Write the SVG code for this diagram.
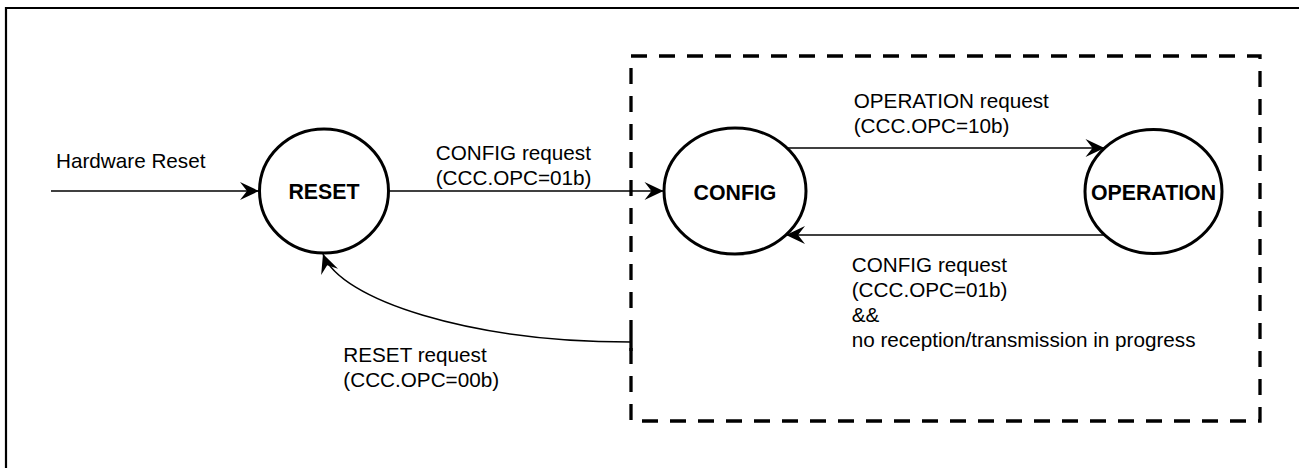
<svg xmlns="http://www.w3.org/2000/svg" width="1299" height="468" viewBox="0 0 1299 468">
<style>
.lbl{font-family:"Liberation Sans",Arial,sans-serif;font-size:20.7px;fill:#000}
.st{font-family:"Liberation Sans",Arial,sans-serif;font-size:21.3px;font-weight:bold;fill:#000;text-anchor:middle}
.state{fill:#fff;stroke:#000;stroke-width:3}
.edge{fill:none;stroke:#000;stroke-width:1.5}
</style>
<defs>
<marker id="arr" markerUnits="userSpaceOnUse" markerWidth="24" markerHeight="24" viewBox="-21 -12 24 24" refX="0" refY="0" orient="auto">
<path d="M0,0 L-19,-9 L-12,0 L-19,9 Z" fill="#000"/>
</marker>
</defs>
<rect width="1299" height="468" fill="#fff"/>
<path d="M6,468 V8 H1299" fill="none" stroke="#000" stroke-width="2.2"/>
<g id="config-group">
<rect x="631" y="56" width="629" height="365" fill="none" stroke="#000" stroke-width="3.3" stroke-dasharray="16 12"/>
</g>
<g id="connectors">
<line class="edge" x1="51" y1="191" x2="259" y2="191" marker-end="url(#arr)"/>
<line class="edge" x1="389" y1="191" x2="663.5" y2="191" marker-end="url(#arr)"/>
<line class="edge" x1="787" y1="148" x2="1104.5" y2="148" marker-end="url(#arr)"/>
<line class="edge" x1="1104.5" y1="235" x2="786" y2="235" marker-end="url(#arr)"/>
<path class="edge" d="M631,342 C470,342 340,300 323,254" marker-end="url(#arr)"/>
<line x1="631" y1="336" x2="631" y2="351" stroke="#000" stroke-width="3.3"/>
</g>
<g id="labels">
<text class="lbl" x="56" y="168">Hardware Reset</text>
<text class="lbl" x="435.7" y="160">CONFIG request</text>
<text class="lbl" x="435.7" y="184.7">(CCC.OPC=01b)</text>
<text class="lbl" x="853.7" y="108.3">OPERATION request</text>
<text class="lbl" x="853.7" y="133">(CCC.OPC=10b)</text>
<text class="lbl" x="851.7" y="271.7">CONFIG request</text>
<text class="lbl" x="851.7" y="296.7">(CCC.OPC=01b)</text>
<text class="lbl" x="851.7" y="321.7">&amp;&amp;</text>
<text class="lbl" x="851.7" y="346.7">no reception/transmission in progress</text>
<text class="lbl" x="343.3" y="361.7">RESET request</text>
<text class="lbl" x="343.3" y="386.5">(CCC.OPC=00b)</text>
</g>
<g id="reset">
<ellipse class="state" cx="324" cy="191" rx="64.5" ry="62"/>
<text class="st" x="324" y="199">RESET</text>
</g>
<g id="config">
<ellipse class="state" cx="735" cy="191" rx="71" ry="63"/>
<text class="st" x="735" y="200">CONFIG</text>
</g>
<g id="operation">
<ellipse class="state" cx="1153.5" cy="191.5" rx="68.5" ry="62"/>
<text class="st" x="1153.5" y="200">OPERATION</text>
</g>
</svg>
